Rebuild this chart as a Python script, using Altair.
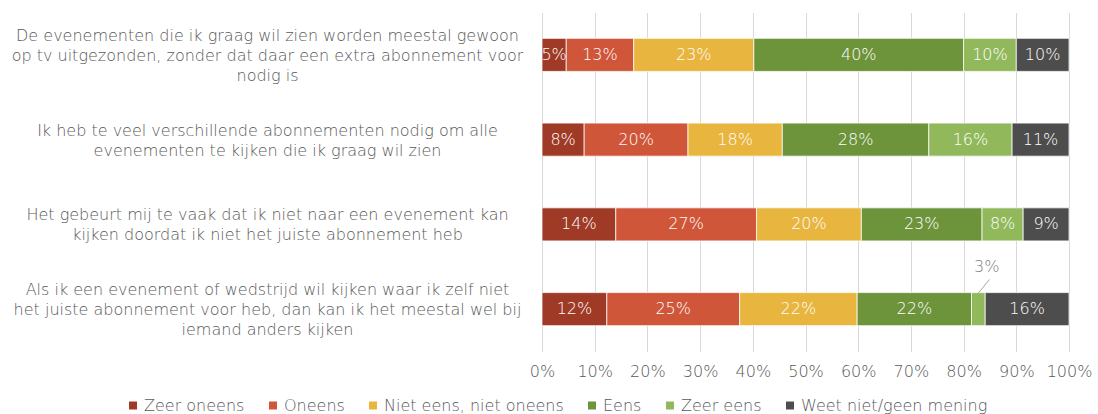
import altair as alt
import pandas as pd

categories = [
    "De evenementen die ik graag wil zien worden meestal gewoon\nop tv uitgezonden, zonder dat daar een extra abonnement voor\nnodig is",
    "Ik heb te veel verschillende abonnementen nodig om alle\nevenementen te kijken die ik graag wil zien",
    "Het gebeurt mij te vaak dat ik niet naar een evenement kan\nkijken doordat ik niet het juiste abonnement heb",
    "Als ik een evenement of wedstrijd wil kijken waar ik zelf niet\nhet juiste abonnement voor heb, dan kan ik het meestal wel bij\niemand anders kijken",
]
series = ["Zeer oneens", "Oneens", "Niet eens, niet oneens", "Eens", "Zeer eens", "Weet niet/geen mening"]
zeer_oneens = [4.6, 8.0, 14.0, 12.3]
oneens = [12.8, 19.7, 26.7, 25.2]
niet_eens = [22.8, 17.9, 19.9, 22.3]
eens = [39.8, 27.8, 22.9, 21.7]
zeer_eens = [10.0, 15.8, 7.8, 2.6]
weet_niet = [10.0, 10.8, 8.7, 15.9]
colors = ["#9E3A26", "#D0563A", "#E8B53F", "#6D933B", "#91B95C", "#4D4D4D"]
x_ticks = [0, 10, 20, 30, 40, 50, 60, 70, 80, 90, 100]

values = [zeer_oneens, oneens, niet_eens, eens, zeer_eens, weet_niet]
rows = []
for i, cat in enumerate(categories):
    cum = 0.0
    for j, s in enumerate(series):
        v = values[j][i]
        rows.append({
            "cat": cat, "series": s, "order": j, "idx": i, "value": v,
            "start": cum, "end": cum + v, "mid": cum + v / 2,
            "label": f"{int(v + 0.5)}%",
        })
        cum += v
df = pd.DataFrame(rows)
df["ty"] = df["idx"] + 0.0
df["tx"] = df["mid"] + 1.6
df["ly1"] = df["idx"] + 0.31
df["ly2"] = df["idx"] + 0.15
df["lx2"] = df["mid"] + 2.1

TEXT = "#595959"
FONT = "DejaVu Sans"
FW = 300

xscale = alt.Scale(domain=[0, 100], nice=False, zero=True)
yscale = alt.Scale(domain=categories, paddingInner=0.61, paddingOuter=0.305)

base = alt.Chart(df)

label_offset = {
    "condition": {"test": "length(split(datum.label, '\\n')) >= 3", "value": -19},
    "value": -9,
}

bars = base.mark_bar(stroke="white", strokeWidth=0.75).encode(
    y=alt.Y("cat:N", sort=categories, scale=yscale,
            axis=alt.Axis(title=None, labelExpr="split(datum.label, '\\n')",
                          labelAlign="center", labelPadding=275, ticks=False,
                          domain=False, labelFontSize=16, labelColor=TEXT,
                          labelFont=FONT, labelFontWeight=FW,
                          labelLineHeight=20, labelLimit=1000,
                          labelOffset=label_offset)),
    x=alt.X("start:Q", scale=xscale,
            axis=alt.Axis(title=None, values=x_ticks, labelExpr="datum.value + '%'",
                          ticks=False, domain=False, grid=True, gridColor="#D9D9D9",
                          labelFontSize=16, labelColor=TEXT, labelFont=FONT,
                          labelFontWeight=FW, labelOverlap=False, labelFlush=False,
                          labelPadding=12)),
    x2="end:Q",
    color=alt.Color("series:N", sort=series,
                    scale=alt.Scale(domain=series, range=colors),
                    legend=alt.Legend(title=None, orient="none", direction="horizontal",
                                      columns=6, legendX=-417, legendY=385,
                                      symbolType="square", symbolSize=64,
                                      symbolStrokeWidth=0, labelFontSize=16,
                                      labelColor=TEXT, labelFont=FONT,
                                      labelFontWeight=FW, labelLimit=1000,
                                      columnPadding=20, labelOffset=3, padding=0)),
    order=alt.Order("order:Q"),
)

inside = base.transform_filter("datum.value >= 4").mark_text(
    color="white", fontSize=16, font=FONT, fontWeight=FW
).encode(
    y=alt.Y("cat:N", sort=categories, scale=yscale),
    x=alt.X("mid:Q", scale=xscale),
    text="label:N",
)

outside_y = alt.Scale(domain=[0, 4], reverse=True, nice=False, zero=False)
outside_text = base.transform_filter("datum.value < 4").mark_text(
    color="#7F7F7F", fontSize=16, font=FONT, fontWeight=FW
).encode(
    y=alt.Y("ty:Q", scale=outside_y, axis=None),
    x=alt.X("tx:Q", scale=xscale),
    text="label:N",
)
leader = base.transform_filter("datum.value < 4").mark_rule(
    color="#A6A6A6", strokeWidth=1
).encode(
    y=alt.Y("ly1:Q", scale=outside_y, axis=None),
    y2="ly2:Q",
    x=alt.X("mid:Q", scale=xscale),
    x2="lx2:Q",
)

main = alt.layer(bars, inside)
ann = alt.layer(outside_text, leader)

chart = alt.layer(main, ann).resolve_scale(y="independent").properties(
    width=527, height=339,
    autosize=alt.AutoSizeParams(type="none"),
    padding={"left": 542, "top": 12.5, "right": 29, "bottom": 62.5},
    background="white",
).configure_view(stroke=None)

chart.save("out.html", embed_options={"renderer": "svg", "actions": False})
